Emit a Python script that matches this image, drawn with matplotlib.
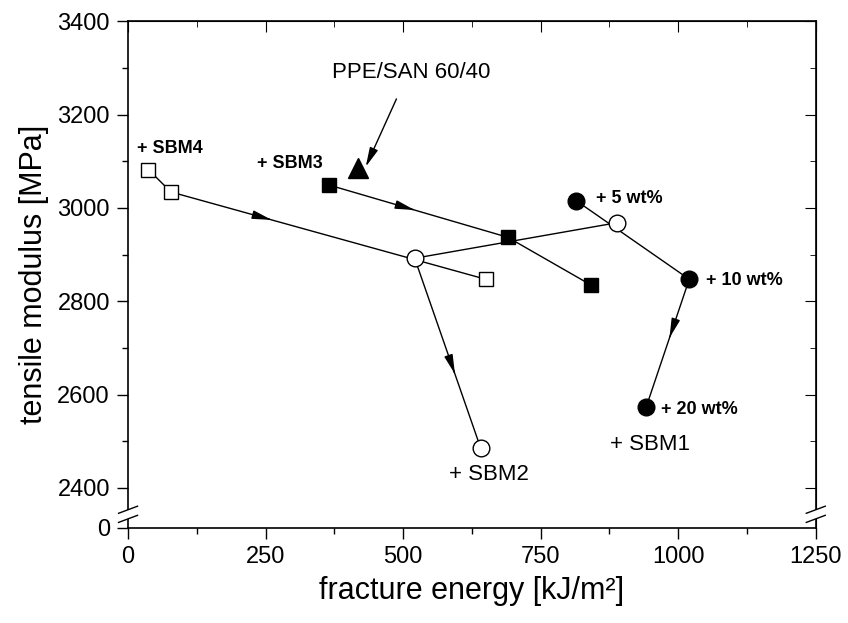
import matplotlib
matplotlib.use('Agg')
import matplotlib.pyplot as plt
from matplotlib.patches import Polygon
from matplotlib.ticker import FixedLocator, MultipleLocator

plt.rcParams['font.family'] = ['Liberation Sans', 'DejaVu Sans']

# fracture energy [kJ/m2], tensile modulus [MPa]
sbm1_x = [815, 1020, 942]
sbm1_y = [3015, 2847, 2574]
sbm2_x = [888, 521, 641]
sbm2_y = [2968, 2892, 2485]
sbm3_x = [365, 690, 841]
sbm3_y = [3049, 2937, 2835]
sbm4_x = [37, 78, 650]
sbm4_y = [3082, 3034, 2847]
blend_x = [418]
blend_y = [3085]

# fractional position of the direction arrow on (series, segment)
arrow_pos = {'sbm4': (1, 0.31), 'sbm3': (0, 0.47), 'sbm2': (1, 0.6), 'sbm1': (1, 0.45)}

y_bottom = 2314  # axis break: this level is labelled 0
y_ticks = [2400, 2600, 2800, 3000, 3200, 3400]

fig = plt.figure(figsize=(8.48, 6.23), dpi=100)
ax = fig.add_axes([0.151, 0.1525, 0.811, 0.8135])

series = {
    'sbm1': (sbm1_x, sbm1_y, 'o', 'black', 12),
    'sbm2': (sbm2_x, sbm2_y, 'o', 'white', 12),
    'sbm3': (sbm3_x, sbm3_y, 's', 'black', 10),
    'sbm4': (sbm4_x, sbm4_y, 's', 'white', 10),
}
for key, (xs, ys, m, fc, ms) in series.items():
    ax.plot(xs, ys, color='black', lw=1.0, zorder=2)
    ax.plot(xs, ys, ls='none', marker=m, ms=ms, mfc=fc, mec='black', mew=1.0, zorder=4)
    seg, t = arrow_pos[key]
    x0, y0, x1, y1 = xs[seg], ys[seg], xs[seg + 1], ys[seg + 1]
    xa, ya = x0 + t * (x1 - x0), y0 + t * (y1 - y0)
    xb, yb = x0 + (t + 0.01) * (x1 - x0), y0 + (t + 0.01) * (y1 - y0)
    ax.annotate('', xy=(xb, yb), xytext=(xa, ya),
                arrowprops=dict(arrowstyle='-|>,head_length=0.9,head_width=0.2',
                                mutation_scale=13, color='black', lw=1.0,
                                shrinkA=0, shrinkB=0), zorder=3)

ax.plot(blend_x, blend_y, ls='none', marker='^', ms=14, color='black', zorder=4)
ax.annotate('PPE/SAN 60/40', xy=(blend_x[0] + 14, blend_y[0] + 3), xytext=(371, 3289),
            fontsize=16, va='center', ha='left',
            arrowprops=dict(arrowstyle='-|>,head_length=0.9,head_width=0.2',
                            mutation_scale=13, color='black', lw=1.0,
                            shrinkA=10, shrinkB=0,
                            relpos=(0.45, 0.0)))

bold = dict(fontsize=13, fontweight='bold', va='center', ha='left')
ax.text(16, 3127, '+ SBM4', **bold)
ax.text(234, 3094, '+ SBM3', **bold)
ax.text(851, 3020, '+ 5 wt%', **bold)
ax.text(1050, 2844, '+ 10 wt%', **bold)
ax.text(969, 2567, '+ 20 wt%', **bold)
ax.text(876, 2493, '+ SBM1', fontsize=16, va='center', ha='left')
ax.text(583, 2428, '+ SBM2', fontsize=16, va='center', ha='left')

ax.set_xlim(0, 1250)
ax.set_ylim(y_bottom, 3400)
ax.xaxis.set_major_locator(MultipleLocator(250))
ax.xaxis.set_minor_locator(MultipleLocator(125))
ax.yaxis.set_major_locator(FixedLocator([y_bottom] + y_ticks))
ax.set_yticklabels(['0'] + [str(v) for v in y_ticks])
ax.yaxis.set_minor_locator(FixedLocator(list(range(2500, 3400, 200))))

ax.tick_params(which='both', direction='out', top=False, right=False, labelsize=17)
ax.tick_params(which='major', length=8, width=1.0, pad=5)
ax.tick_params(which='minor', length=4, width=1.0)
for s in ax.spines.values():
    s.set_linewidth(1.2)

# inward ticks on the top and right
sec_x = ax.secondary_xaxis('top')
sec_x.xaxis.set_major_locator(MultipleLocator(250))
sec_x.xaxis.set_minor_locator(MultipleLocator(125))
sec_x.tick_params(which='both', direction='in', labeltop=False)
sec_x.tick_params(which='major', length=8)
sec_x.tick_params(which='minor', length=4)
sec_y = ax.secondary_yaxis('right')
sec_y.yaxis.set_major_locator(FixedLocator(y_ticks))
sec_y.yaxis.set_minor_locator(FixedLocator(list(range(2500, 3400, 200))))
sec_y.tick_params(which='both', direction='in', labelright=False)
sec_y.tick_params(which='major', length=8)
sec_y.tick_params(which='minor', length=4)

# break marks on both vertical spines
for xc in (0.0, 1.0):
    dx, dy = 0.0138, 0.007
    y1, y2 = 0.018, 0.036
    ax.add_patch(Polygon([(xc - dx, y1 - dy), (xc + dx, y1 + dy), (xc + dx, y2 + dy), (xc - dx, y2 - dy)],
                         closed=True, transform=ax.transAxes, facecolor='white',
                         edgecolor='none', clip_on=False, zorder=5))
    for yc in (y1, y2):
        ax.plot([xc - dx, xc + dx], [yc - dy, yc + dy], color='black', lw=1.0,
                transform=ax.transAxes, clip_on=False, zorder=6)

ax.set_xlabel('fracture energy [kJ/m²]', fontsize=22, labelpad=6)
ax.set_ylabel('tensile modulus [MPa]', fontsize=22, labelpad=6)

plt.savefig('out.png', dpi=100)
